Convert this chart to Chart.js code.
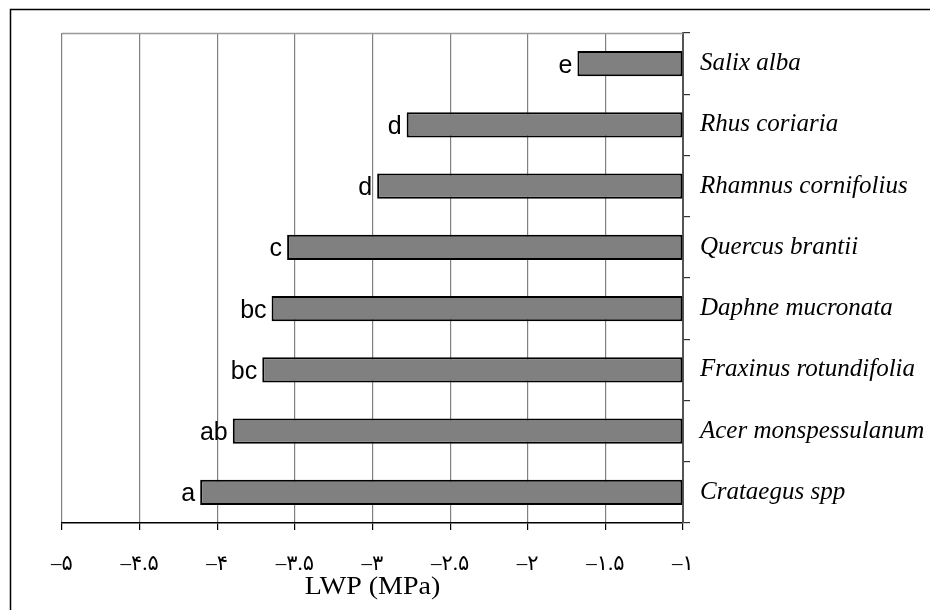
<!DOCTYPE html>
<html>
<head>
<meta charset="utf-8">
<script src="https://cdn.jsdelivr.net/npm/chart.js@4"></script>
<style>
  html, body { margin: 0; padding: 0; background: #fff; }
  #wrap { width: 930px; height: 610px; position: relative; }
</style>
</head>
<body>
<div id="wrap"><canvas id="c" width="930" height="610"></canvas></div>
<script>
const species = ['Salix alba', 'Rhus coriaria', 'Rhamnus cornifolius', 'Quercus brantii',
  'Daphne mucronata', 'Fraxinus rotundifolia', 'Acer monspessulanum', 'Crataegus spp'];
const lwp = [-1.68, -2.78, -2.97, -3.55, -3.65, -3.71, -3.90, -4.11];
const groups = ['e', 'd', 'd', 'c', 'bc', 'bc', 'ab', 'a'];
const tickValues = [-5, -4.5, -4, -3.5, -3, -2.5, -2, -1.5, -1];
const tickLabels = ['–۵', '–۴.۵', '–۴', '–۳.۵', '–۳', '–۲.۵', '–۲', '–۱.۵', '–۱'];
const axisTitle = 'LWP (MPa)';

const decor = {
  id: 'decor',
  beforeDraw(chart) {
    const ctx = chart.ctx;
    ctx.save();
    ctx.fillStyle = '#fff';
    ctx.fillRect(0, 0, chart.width, chart.height);
    // outer frame
    ctx.strokeStyle = '#000';
    ctx.lineWidth = 1.5;
    ctx.strokeRect(10.5, 9.5, chart.width + 20, chart.height + 20);
    ctx.restore();
  },
  afterDatasetsDraw(chart) {
    const ctx = chart.ctx;
    const a = chart.chartArea;
    ctx.save();
    // top border of plot
    ctx.strokeStyle = '#999';
    ctx.lineWidth = 1.5;
    ctx.beginPath();
    ctx.moveTo(a.left, a.top + 0.5);
    ctx.lineTo(a.right, a.top + 0.5);
    ctx.stroke();
    // group letters
    const meta = chart.getDatasetMeta(0);
    ctx.fillStyle = '#000';
    ctx.font = '25px "Liberation Sans", Arial, sans-serif';
    ctx.textAlign = 'right';
    ctx.textBaseline = 'middle';
    meta.data.forEach((bar, i) => {
      ctx.fillText(groups[i], bar.x - 5, bar.y + 2);
    });
    ctx.restore();
  },
  afterDraw(chart) {
    const ctx = chart.ctx;
    const a = chart.chartArea;
    ctx.save();
    ctx.fillStyle = '#000';
    ctx.font = '25px "Liberation Serif", "Times New Roman", serif';
    ctx.textAlign = 'center';
    ctx.textBaseline = 'middle';
    ctx.translate((a.left + a.right) / 2, 587);
    ctx.scale(1.12, 1);
    ctx.fillText(axisTitle, 0, 0);
    ctx.restore();
  }
};

new Chart(document.getElementById('c'), {
  type: 'bar',
  data: {
    labels: species,
    datasets: [{
      data: lwp,
      base: -1,
      backgroundColor: '#808080',
      borderColor: '#000',
      borderWidth: 2,
      borderSkipped: false,
      barPercentage: 0.82,
      categoryPercentage: 0.5
    }]
  },
  options: {
    indexAxis: 'y',
    responsive: false,
    animation: false,
    layout: { padding: { left: 62, top: 33, right: 0, bottom: 0 } },
    plugins: { legend: { display: false }, tooltip: { enabled: false } },
    scales: {
      x: {
        type: 'linear',
        position: 'bottom',
        min: -5,
        max: -1,
        afterBuildTicks(scale) { scale.ticks = tickValues.map(v => ({ value: v })); },
        afterFit(scale) { scale.height = 87; },
        ticks: {
          callback: (v) => tickLabels[tickValues.indexOf(v)],
          color: '#000',
          padding: 22,
          maxRotation: 0,
          autoSkip: false,
          font: { family: '"Liberation Serif", "DejaVu Sans", serif', size: 21 }
        },
        grid: {
          color: '#808080',
          lineWidth: 1.2,
          tickLength: 7,
          tickColor: '#000',
          drawTicks: true
        },
        border: { color: '#000', width: 1.5 }
      },
      y: {
        position: 'right',
        afterFit(scale) { scale.width = 247; },
        ticks: {
          color: '#000',
          padding: 10,
          font: { family: '"Liberation Serif", "Times New Roman", serif', size: 25, style: 'italic' }
        },
        grid: {
          offset: true,
          drawOnChartArea: false,
          tickLength: 7,
          tickColor: '#333',
          lineWidth: 1.2
        },
        border: { color: '#555', width: 2 }
      }
    }
  },
  plugins: [decor]
});
</script>
</body>
</html>
